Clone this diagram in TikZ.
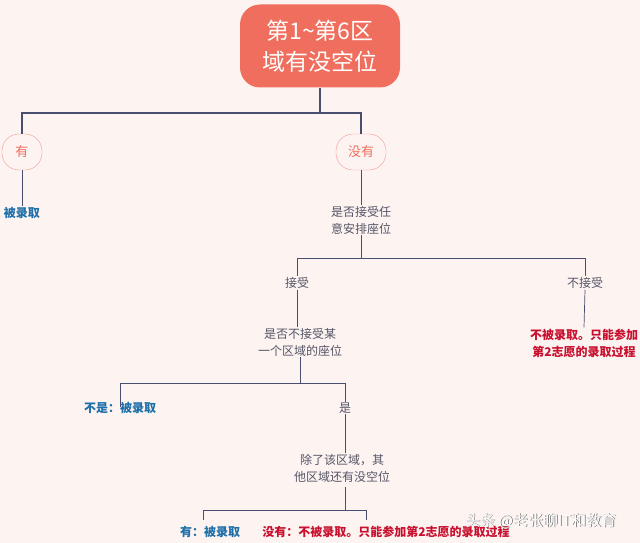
\documentclass[tikz,border=0pt]{standalone}
\usepackage{fontspec}
\newfontfamily\cjk{Noto Sans CJK SC}
\definecolor{bg}{HTML}{FDF4F2}
\definecolor{sal}{HTML}{EF6E5E}
\definecolor{ln}{HTML}{4A4E6E}
\definecolor{bl}{HTML}{1F6FA8}
\definecolor{rd}{HTML}{C8102E}
\definecolor{tx}{HTML}{555566}
\tikzset{x=1pt,y=-1pt,
 conn/.style={draw=ln,line width=0.7pt},
 thick conn/.style={draw=ln,line width=1.5pt},
 pill/.style={draw=sal!70,fill=bg,rounded corners=17pt,text=sal,font=\cjk\fontsize{13}{14}\selectfont,minimum height=36pt,inner sep=2pt},
 q/.style={text=tx,font=\cjk\fontsize{12}{17}\selectfont,align=center,inner sep=1pt},
 yes/.style={text=bl,font=\cjk\bfseries\fontsize{12}{14}\selectfont,inner sep=1pt},
 no/.style={text=rd,font=\cjk\bfseries\fontsize{12}{17}\selectfont,align=center,inner sep=1pt}}
\begin{document}
\begin{tikzpicture}
\fill[bg] (0,0) rectangle (640,543);
\useasboundingbox (0,0) rectangle (640,543);
\node[fill=sal,rounded corners=20pt,minimum width=160pt,minimum height=83pt,text=white,align=center,font=\cjk\fontsize{23}{31}\selectfont] (top) at (320,46) {第1\textasciitilde 第6区\\域有没空位};
\node[pill,minimum width=40pt] (you) at (22,152) {有};
\node[pill,minimum width=50pt] (meiyou) at (361,152) {没有};
\draw[thick conn] (top.south) -- (320,113) -| (you.north);
\draw[thick conn] (320,113) -| (meiyou.north);
\node[yes] (a1) at (22,213) {被录取};
\draw[conn] (you.south) -- (a1.north);
\node[q] (q1) at (361,220) {是否接受任\\意安排座位};
\draw[conn] (meiyou.south) -- (q1.north);
\node[q] (acc) at (297,283) {接受};
\node[q] (nacc) at (585,283) {不接受};
\coordinate (j1) at (361,258);
\draw[conn] (q1.south) -- (j1) -| (acc.north);
\draw[conn] (j1) -| (nacc.north);
\node[q] (q2) at (300,342) {是否不接受某\\一个区域的座位};
\draw[conn] (acc.south) -- (acc.south|-q2.north);
\node[no] (r1) at (584,343) {不被录取。只能参加\\第2志愿的录取过程};
\draw[conn] (nacc.south) -- (r1.north);
\node[yes] (bs) at (120,408) {不是：被录取};
\node[q] (shi) at (345,408) {是};
\coordinate (j2) at (300,383);
\draw[conn] (q2.south) -- (j2) -| ([yshift=-6pt]bs.north);
\draw[conn] (j2) -| (shi.north);
\node[q] (q3) at (342,468) {除了该区域，其\\他区域还有没空位};
\draw[conn] (shi.south) -- (shi.south|-q3.north);
\node[yes] (yb) at (210,532) {有：被录取};
\node[no] (nb) at (386,532) {没有：不被录取。只能参加第2志愿的录取过程};
\coordinate (j3) at (345,510);
\draw[conn] (345,487) -- (j3) -| (203,520);
\draw[conn] (j3) -| (366,520);
\node[text=black!60,font=\cjk\fontsize{15}{16}\selectfont,inner sep=0pt] (wmshadow) at (541.7,521.7) {头条 @老张聊IT和教育};
\node[text=white,font=\cjk\fontsize{15}{16}\selectfont,inner sep=0pt] (wm) at (541,521) {头条 @老张聊IT和教育};
\end{tikzpicture}
\end{document}
